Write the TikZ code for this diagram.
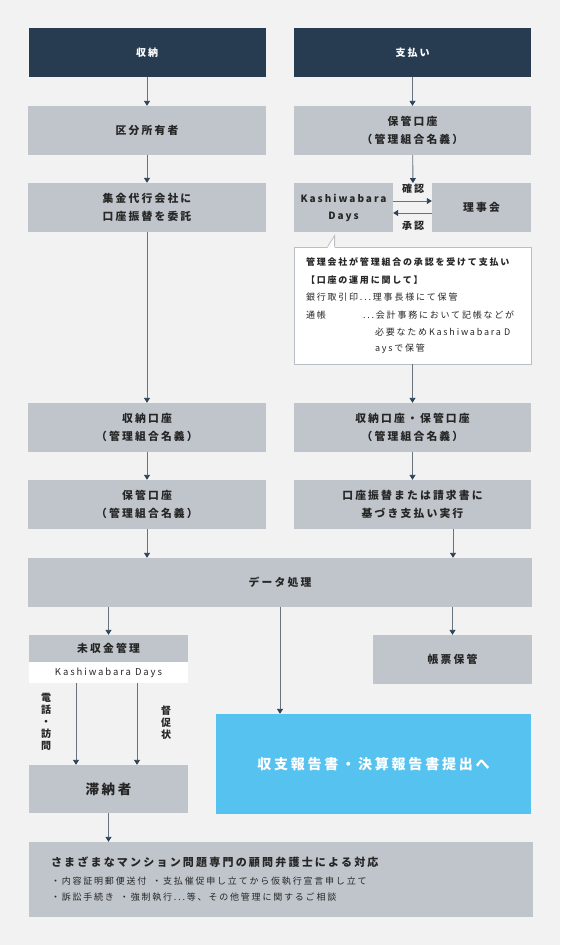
\documentclass[tikz,border=0pt]{standalone}
\usepackage{fontspec}
\setmainfont{Noto Sans CJK JP}[LetterSpace=20]
\usetikzlibrary{arrows.meta,positioning}
\definecolor{pagebg}{HTML}{F2F2F2}
\definecolor{navy}{HTML}{273C51}
\definecolor{boxgray}{HTML}{BFC5CB}
\definecolor{ink}{HTML}{262626}
\definecolor{linegray}{HTML}{66737F}
\definecolor{tipnavy}{HTML}{2D4257}
\definecolor{notegray}{HTML}{B8BEC4}
\definecolor{skyblue}{HTML}{56C2F0}

\begin{document}
\begin{tikzpicture}[x=1pt, y=-1pt,
    head/.style={fill=navy, text=white, minimum width=237pt, minimum height=49pt, inner sep=0pt, font=\fontsize{10}{17}\selectfont\bfseries},
    box/.style={fill=boxgray, text=ink, minimum width=238pt, minimum height=49pt, inner sep=0pt, align=center, font=\fontsize{10.8}{17.5}\selectfont\bfseries},
    note/.style={draw=notegray, line width=0.8pt, fill=white, minimum width=237pt, minimum height=117pt, text width=213pt, inner xsep=12pt, inner ysep=0pt, align=left, text=ink, font=\fontsize{9}{17.5}\selectfont},
    tag/.style={text=ink, inner sep=1pt, align=center, font=\fontsize{10}{12}\selectfont\bfseries},
    arr/.style={draw=linegray, line width=0.9pt, -{Triangle[width=6pt,length=5pt,color=tipnavy]}}
]
    \fill[pagebg] (0,0) rectangle (560,945);

    \node[head] (hin) at (147,52.5) {収納};
    \node[head] (hout) at (412.5,52.5) {支払い};

    \node[box] (owner) at (147,130.5) {区分所有者};
    \node[box, minimum width=237pt] (hkeep) at (412.5,130.5) {保管口座\\（管理組合名義）};
    \node[box] (agent) at (147,207.5) {集金代行会社に\\口座振替を委託};
    \node[box, minimum width=99pt, font=\fontsize{10}{17}\selectfont\bfseries] (kd) at (343.5,207.5) {Kashiwabara\\Days};
    \node[box, minimum width=99pt] (board) at (481.5,207.5) {理事会};
    \node[tag] (chk) at (413,189) {確認};
    \node[tag] (ok) at (413,226) {承認};

    \node[note] (note) at (412.5,305.5) {\textbf{管理会社が管理組合の承認を受けて支払い}\\
        \textbf{【口座の運用に関して】}\\
        銀行取引印...理事長様にて保管\\
        \makebox[57pt][l]{通帳}...会計事務において記帳などが\\
        \hspace*{69pt}必要なためKashiwabara D\\[-2pt]
        \hspace*{69pt}aysで保管};
    \fill[white] ([xshift=34pt,yshift=-1.2pt]note.north west) -- ([xshift=41pt,yshift=11pt]note.north west) -- ([xshift=41pt,yshift=-1.2pt]note.north west) -- cycle;
    \draw[notegray, line width=0.8pt] ([xshift=34pt]note.north west) -- ([xshift=41pt,yshift=11pt]note.north west) -- ([xshift=41pt]note.north west);

    \node[box] (acc) at (147,427.5) {収納口座\\（管理組合名義）};
    \node[box, minimum width=237pt] (both) at (412.5,427.5) {収納口座・保管口座\\（管理組合名義）};
    \node[box] (keep) at (147,504.5) {保管口座\\（管理組合名義）};
    \node[box, minimum width=237pt] (pay) at (412.5,504.5) {口座振替または請求書に\\基づき支払い実行};

    \node[box, minimum width=504pt] (data) at (280,582.5) {データ処理};

    \node[box, minimum width=159pt, minimum height=27pt] (unpaid) at (108.5,648.5) {未収金管理};
    \node[fill=white, text=ink, minimum width=159pt, minimum height=21pt, inner sep=0pt, font=\fontsize{9.5}{12}\selectfont] (band) at (108.5,672.5) {Kashiwabara Days};
    \node[tag] (call) at (46,722) {電\\話\\・\\訪\\問};
    \node[tag] (letter) at (166,723) {督\\促\\状};
    \node[box, minimum width=159pt, minimum height=48pt, font=\fontsize{13.5}{16}\selectfont\bfseries] (arrears) at (108.5,789) {滞納者};

    \node[fill=skyblue, text=white, minimum width=315pt, minimum height=100pt, inner sep=0pt, font=\fontsize{14}{17}\selectfont\bfseries] (report) at (373.5,764) {収支報告書・決算報告書提出へ};
    \node[box, minimum width=159pt] (ledger) at (452.5,659.5) {帳票保管};

    \node[box, minimum width=504pt, minimum height=75pt, text width=460pt, inner xsep=22pt, align=left, font=\fontsize{9}{16.5}\selectfont] (law) at (281,879.5) {{\fontsize{11}{13}\selectfont\bfseries さまざまなマンション問題専門の顧問弁護士による対応}\\[1pt]
        ・内容証明郵便送付\ \ ・支払催促申し立てから仮執行宣言申し立て\\
        ・訴訟手続き\ \ ・強制執行...等、その他管理に関するご相談};

    \draw[arr] (hin) -- (owner);
    \draw[arr] (owner) -- (agent);
    \draw[arr] (agent) -- (acc);
    \draw[arr] (acc) -- (keep);
    \draw[arr] (keep) -- (keep |- data.north);
    \draw[arr] (hout) -- (hkeep);
    \draw[arr] (hkeep) -- (chk);
    \draw[arr] ([yshift=6.5pt]kd.east) -- ([yshift=6.5pt]board.west);
    \draw[arr] ([yshift=-5.5pt]board.west) -- ([yshift=-5.5pt]kd.east);
    \draw[arr] (note) -- (both);
    \draw[arr] (both) -- (pay);
    \draw[arr] ([xshift=40.5pt]pay.south) -- ([xshift=40.5pt]pay.south |- data.north);
    \draw[arr] (unpaid.north |- data.south) -- (unpaid);
    \draw[arr] (data) -- (data |- report.north);
    \draw[arr] (ledger.north |- data.south) -- (ledger);
    \draw[arr] ([xshift=-32.5pt]band.south) -- ([xshift=-32.5pt]band.south |- arrears.north);
    \draw[arr] ([xshift=28.5pt]band.south) -- ([xshift=28.5pt]band.south |- arrears.north);
    \draw[arr] (arrears) -- (arrears |- law.north);
\end{tikzpicture}
\end{document}
